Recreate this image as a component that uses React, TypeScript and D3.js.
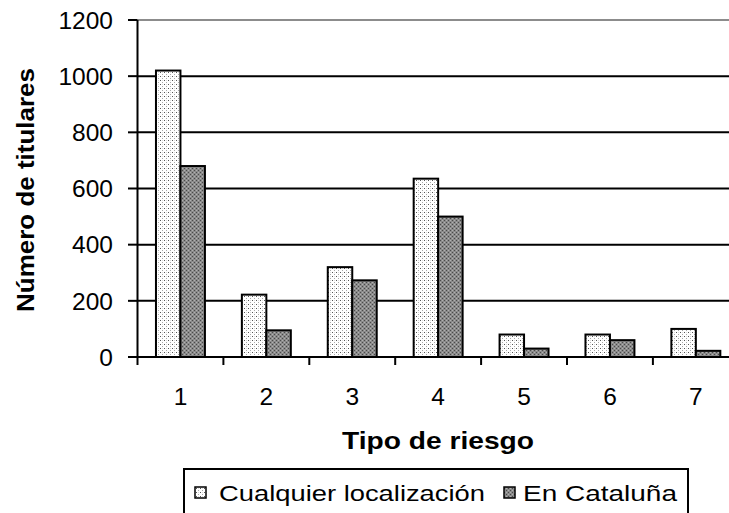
import React from "react";
import * as d3 from "d3";

const categories = ["1", "2", "3", "4", "5", "6", "7"];
const cualquier = [1020, 222, 320, 635, 80, 80, 100];
const cataluna = [680, 95, 273, 500, 30, 60, 22];
const yTicks = [0, 200, 400, 600, 800, 1000, 1200];
const seriesNames = ["Cualquier localización", "En Cataluña"];
const yTitle = "Número de titulares";
const xTitle = "Tipo de riesgo";

const W = 729;
const H = 513;
const FONT = "'Liberation Sans', Arial, sans-serif";

export default function App() {
  const left = 137.5;
  const right = 738.8;
  const top = 20;
  const bottom = 357;
  const x0 = d3.scaleBand<string>().domain(categories).range([left, right]).paddingInner(0).paddingOuter(0);
  const y = d3.scaleLinear().domain([0, 1200]).range([bottom, top]);
  const bw = x0.bandwidth() * 0.285;
  const series = [cualquier, cataluna];
  const fills = ["url(#dots)", "url(#dark)"];

  return (
    <div style={{ position: "fixed", left: 0, top: 0 }}>
      <svg width={W} height={H} style={{ display: "block", background: "#fff" }}>
        <defs>
          <pattern id="dots" width="4" height="4" patternUnits="userSpaceOnUse">
            <rect width="4" height="4" fill="#ffffff" />
            <rect x="0" y="0" width="1" height="1" fill="#555" />
            <rect x="2" y="2" width="1" height="1" fill="#aaa" />
            <rect x="2" y="0" width="1" height="1" fill="#ddd" />
          </pattern>
          <pattern id="dark" width="4" height="4" patternUnits="userSpaceOnUse">
            <rect width="4" height="4" fill="#8a8a8a" />
            <rect x="0" y="0" width="1" height="1" fill="#4a4a4a" />
            <rect x="2" y="2" width="1" height="1" fill="#4a4a4a" />
            <rect x="2" y="0" width="1" height="1" fill="#b0b0b0" />
            <rect x="0" y="2" width="1" height="1" fill="#b0b0b0" />
          </pattern>
        </defs>

        {/* gridlines */}
        {yTicks.filter((t) => t > 0).map((t) => (
          <line key={"g" + t} x1={left} x2={W} y1={y(t)} y2={y(t)}
            stroke={t === 1200 ? "#8c8c8c" : "#000"} strokeWidth={2} />
        ))}

        {/* y ticks & labels */}
        {yTicks.map((t) => (
          <g key={"yt" + t}>
            <line x1={128} x2={left} y1={y(t)} y2={y(t)} stroke="#000" strokeWidth={2} />
            <text x={113} y={y(t)} dy="0.36em" textAnchor="end" fontFamily={FONT} fontSize={24.5} fill="#000">{t}</text>
          </g>
        ))}

        {/* bars */}
        {categories.map((c, i) => {
          const center = (x0(c) as number) + x0.bandwidth() / 2;
          return series.map((s, k) => {
            const xs = center - bw + k * bw;
            return (
              <rect key={c + "-" + k} x={xs} y={y(s[i])} width={bw} height={bottom - y(s[i])}
                fill={fills[k]} stroke="#000" strokeWidth={2} />
            );
          });
        })}

        {/* axes */}
        <line x1={left} x2={left} y1={top} y2={bottom} stroke="#000" strokeWidth={2} />
        <line x1={left} x2={W} y1={bottom} y2={bottom} stroke="#000" strokeWidth={2} />
        {categories.map((c) => (
          <line key={"xt" + c} x1={x0(c) as number} x2={x0(c) as number} y1={bottom} y2={365} stroke="#000" strokeWidth={2} />
        ))}
        {categories.map((c) => (
          <text key={"xl" + c} x={(x0(c) as number) + x0.bandwidth() / 2} y={405} textAnchor="middle"
            fontFamily={FONT} fontSize={24.5} fill="#000">{c}</text>
        ))}

        {/* axis titles */}
        <text x={438} y={449} textAnchor="middle" fontFamily={FONT} fontSize={24.5} fontWeight="bold"
          textLength={192} lengthAdjust="spacingAndGlyphs" fill="#000">{xTitle}</text>
        <text transform="translate(34,190) rotate(-90)" textAnchor="middle" fontFamily={FONT} fontSize={23.5}
          fontWeight="bold" textLength={244} lengthAdjust="spacingAndGlyphs" fill="#000">{yTitle}</text>

        {/* legend */}
        <rect x={184} y={469} width={504} height={60} fill="#fff" stroke="#000" strokeWidth={2} />
        <rect x={195} y={487} width={11} height={11} fill={fills[0]} stroke="#000" strokeWidth={1.5} />
        <text x={219} y={501} fontFamily={FONT} fontSize={22.5} fill="#000" textLength={266} lengthAdjust="spacingAndGlyphs">{seriesNames[0]}</text>
        <rect x={504} y={487} width={11} height={11} fill={fills[1]} stroke="#000" strokeWidth={1.5} />
        <text x={523} y={501} fontFamily={FONT} fontSize={22.5} fill="#000" textLength={154} lengthAdjust="spacingAndGlyphs">{seriesNames[1]}</text>
      </svg>
    </div>
  );
}
